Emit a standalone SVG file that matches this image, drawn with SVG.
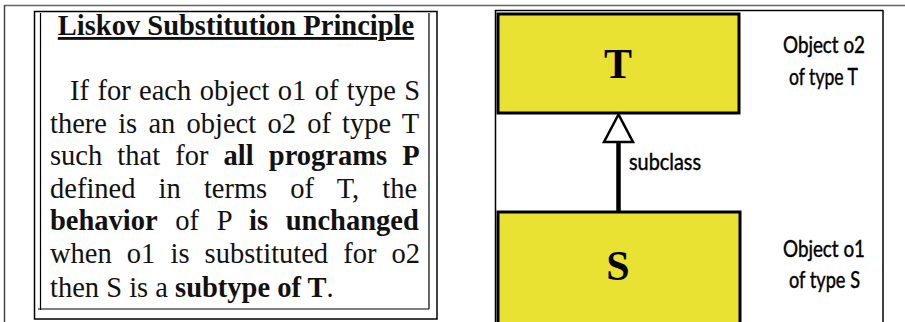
<svg xmlns="http://www.w3.org/2000/svg" width="905" height="322" viewBox="0 0 905 322">
<style>
.frame{fill:none;stroke:#000;stroke-width:1.5}
.box{fill:#EAE232;stroke:#000;stroke-width:3}
.body{font-family:"Liberation Serif","Times New Roman",serif;font-size:28.5px;fill:#111}
.b{font-weight:bold}
.big{font-family:"Liberation Serif","Times New Roman",serif;font-weight:bold;font-size:42px;fill:#000;text-anchor:middle}
.lbl{font-family:Lato,"Open Sans",sans-serif;font-size:23px;fill:#000;stroke:#000;stroke-width:0.45}
</style>
<rect width="905" height="322" fill="#fff"/>
<g id="outer-frame">
<line x1="4" y1="5.5" x2="905" y2="5.5" stroke="#666" stroke-width="1.5"/>
<line x1="4.5" y1="5" x2="4.5" y2="322" stroke="#444" stroke-width="1.5"/>
</g>
<g id="principle-panel">
<rect class="frame" x="34.5" y="11.5" width="402.5" height="307.5" stroke-width="2"/>
<line x1="40.5" y1="13" x2="40.5" y2="310" stroke="#000" stroke-width="1.2"/>
<line x1="429" y1="13" x2="429" y2="309" stroke="#000" stroke-width="1.2"/>
<line x1="38" y1="309" x2="429" y2="309" stroke="#000" stroke-width="1.2"/>
<text x="236" y="35" class="body b" text-anchor="middle" text-decoration="underline">Liskov Substitution Principle</text>
<text x="70" y="100" class="body" word-spacing="1.3">If for each object o1 of type S</text>
<text x="50" y="133" class="body" word-spacing="4.1">there is an object o2 of type T</text>
<text x="50" y="165" class="body" word-spacing="8">such that for <tspan class="b">all programs P</tspan></text>
<text x="50" y="198" class="body" word-spacing="16">defined in terms of T, the</text>
<text x="50" y="230" class="body" word-spacing="10.5"><tspan class="b">behavior</tspan> of P <tspan class="b">is unchanged</tspan></text>
<text x="50" y="263" class="body" word-spacing="8">when o1 is substituted for o2</text>
<text x="50" y="297" class="body">then S is a <tspan class="b">subtype of T</tspan>.</text>
</g>
<g id="diagram-panel">
<line x1="495.5" y1="10" x2="495.5" y2="322" stroke="#000" stroke-width="1.5"/>
<line x1="495" y1="10.5" x2="883" y2="10.5" stroke="#000" stroke-width="1.5"/>
<line x1="883" y1="10" x2="883" y2="322" stroke="#000" stroke-width="1.5"/>
</g>
<g id="node-T">
<rect class="box" x="498" y="14" width="241" height="99"/>
<text x="618" y="78" class="big">T</text>
</g>
<g id="node-S">
<rect class="box" x="498" y="212" width="242" height="115"/>
<text x="618" y="280" class="big">S</text>
</g>
<g id="connectors">
<line x1="618.5" y1="211" x2="618.5" y2="142" stroke="#000" stroke-width="4.5"/>
<polygon points="618.5,114.5 604,142 633,142" fill="#fff" stroke="#000" stroke-width="2.5" stroke-linejoin="miter"/>
<text x="629" y="170" class="lbl" font-size="22" textLength="72" lengthAdjust="spacingAndGlyphs">subclass</text>
</g>
<g id="label-o2">
<text x="783" y="53" class="lbl" textLength="82" lengthAdjust="spacingAndGlyphs">Object o2</text>
<text x="789" y="85" class="lbl" textLength="69" lengthAdjust="spacingAndGlyphs">of type T</text>
</g>
<g id="label-o1">
<text x="783" y="257" class="lbl" textLength="82" lengthAdjust="spacingAndGlyphs">Object o1</text>
<text x="789" y="288" class="lbl" textLength="71" lengthAdjust="spacingAndGlyphs">of type S</text>
</g>
</svg>
